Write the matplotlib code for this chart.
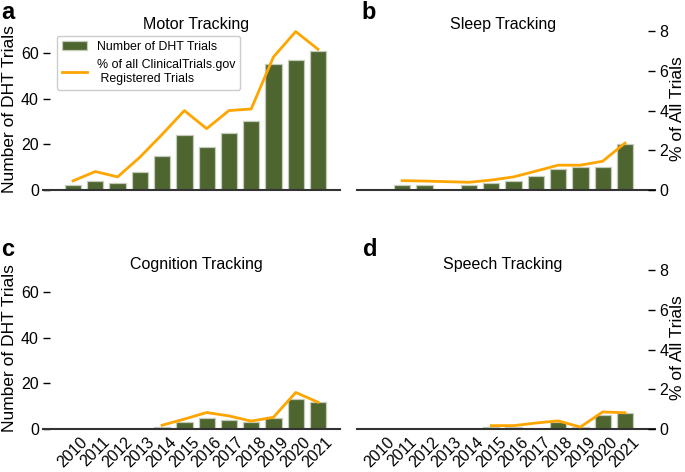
import matplotlib
matplotlib.use('Agg')
import matplotlib.pyplot as plt
import numpy as np

plt.rcParams['font.family'] = ['Liberation Sans', 'DejaVu Sans']

years = [2010, 2011, 2012, 2013, 2014, 2015, 2016, 2017, 2018, 2019, 2020, 2021]
nan = np.nan

# number of DHT trials per year
motor_counts = [2, 4, 3, 8, 15, 24, 19, 25, 30, 55, 57, 61]
sleep_counts = [0, 2, 2, 0, 2, 3, 4, 6, 9, 10, 10, 20]
cognition_counts = [0, 0, 0, 0, 1, 3, 5, 4, 3, 5, 13, 12]
speech_counts = [0, 0, 0, 0, 0, 1, 1, 0, 3, 1, 6, 7]

# % of all ClinicalTrials.gov registered trials
motor_pct = [0.46, 0.93, 0.66, 1.65, 2.8, 4.0, 3.09, 4.0, 4.08, 6.7, 7.98, 7.09]
sleep_pct = [nan, 0.47, 0.45, 0.42, 0.39, 0.5, 0.66, 0.95, 1.25, 1.25, 1.45, 2.36]
cognition_pct = [nan, nan, nan, nan, 0.19, 0.5, 0.83, 0.66, 0.4, 0.59, 1.84, 1.35]
speech_pct = [nan, nan, nan, nan, nan, 0.17, 0.17, 0.3, 0.41, 0.1, 0.86, 0.82]

titles = ['Motor Tracking', 'Sleep Tracking', 'Cognition Tracking', 'Speech Tracking']
counts = [motor_counts, sleep_counts, cognition_counts, speech_counts]
pcts = [motor_pct, sleep_pct, cognition_pct, speech_pct]

bar_color = '#4e6530'
line_color = 'orange'

W, H = 685, 472
fig = plt.figure(figsize=(W/100, H/100), dpi=100)

# axes rectangles in pixels: left, zero line y, width
rects = [(43, 190, 297), (357, 190, 298), (43, 429, 297), (357, 429, 298)]
axh = 162.8
xlims = [(-1.35, 11.99), (-1.03, 12.35), (-1.35, 11.99), (-1.03, 12.35)]
title_x = [196, 503, 196, 503]
title_y = [25, 25, 265, 265]

x = np.arange(len(years))

for i in range(4):
    l, b, w = rects[i]
    ax = fig.add_axes([l/W, (H-b)/H, w/W, axh/H])
    ax2 = ax.twinx()
    bars = ax.bar(x, counts[i], width=0.73, color=bar_color, edgecolor='#c3cbb9',
                  linewidth=0.9, label='Number of DHT Trials')
    line, = ax2.plot(x, pcts[i], color=line_color, lw=2,
                     label='% of all ClinicalTrials.gov\n Registered Trials')
    ax.set_ylim(0, 71.2)
    ax2.set_ylim(0, 8.2)
    ax.set_xlim(*xlims[i])

    for a in (ax, ax2):
        for s in ['top', 'right', 'left', 'bottom']:
            a.spines[s].set_visible(False)
    ax.spines['bottom'].set_visible(True)
    ax.spines['bottom'].set_color('#333333')
    ax.spines['bottom'].set_linewidth(1.5)

    ax.set_yticks([0, 20, 40, 60])
    ax2.set_yticks([0, 2, 4, 6, 8])
    ax.tick_params(axis='y', direction='in', length=5, width=1, labelsize=11.5, pad=3)
    ax2.tick_params(axis='y', direction='in', length=5, width=1, labelsize=11.5, pad=3)
    ax.tick_params(axis='x', length=0, pad=4)

    if i % 2 == 0:
        ax2.set_yticks([])
        ax.set_ylabel('Number of DHT Trials', fontsize=12.5, labelpad=3)
    else:
        ax.set_yticks([])
        ax2.set_ylabel('% of All Trials', fontsize=12.5, labelpad=1)

    ax.set_xticks(x)
    if i >= 2:
        ax.set_xticklabels([str(y) for y in years], rotation=45, fontsize=11.5)
    else:
        ax.set_xticklabels([])

    fig.text(title_x[i]/W, 1 - title_y[i]/H, titles[i], ha='center', va='center', fontsize=11.5)

    if i == 0:
        ax.legend(handles=[bars, line], loc='upper left',
                  bbox_to_anchor=((57-43)/297, (190-36)/axh), borderaxespad=0,
                  fontsize=8.9, frameon=True, edgecolor='#cccccc', framealpha=1)

fig.text(0.002, 0.998, 'a', fontsize=17, weight='bold', va='top')
fig.text(361/W, 0.998, 'b', fontsize=17, weight='bold', va='top')
fig.text(0.002, 1 - 238/H, 'c', fontsize=17, weight='bold', va='top')
fig.text(363/W, 1 - 238/H, 'd', fontsize=17, weight='bold', va='top')

fig.savefig('out.png', dpi=100)
